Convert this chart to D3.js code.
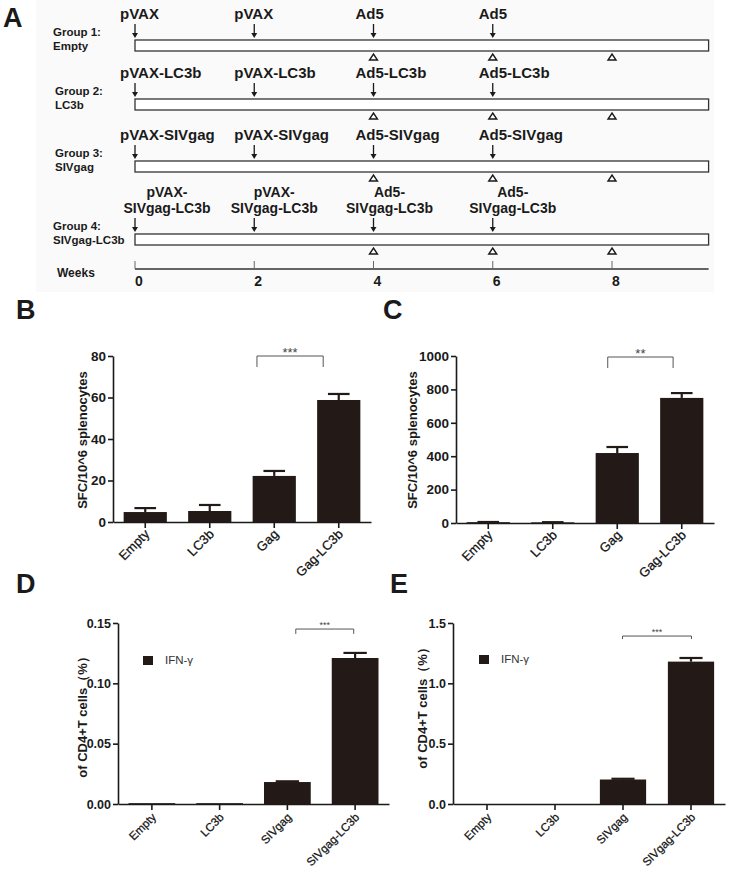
<!DOCTYPE html>
<html>
<head>
<meta charset="utf-8">
<script src="https://cdn.jsdelivr.net/npm/d3@7"></script>
<style>
  html, body { margin: 0; padding: 0; background: #fff; }
  svg { display: block; font-family: "Liberation Sans", Arial, sans-serif; }
</style>
</head>
<body>
<svg id="fig" width="730" height="874"></svg>
<script>
// ---- data ----
// panel A: immunization schedule
const weekTicks = [0, 2, 4, 6, 8];
const groupTitles = ['Group 1:', 'Group 2:', 'Group 3:', 'Group 4:'];
const groupNames = ['Empty', 'LC3b', 'SIVgag', 'SIVgag-LC3b'];
const primeWeeks = [0, 2];
const boostWeeks = [4, 6];
const sampleWeeks = [4, 6, 8];
const primeLabels = [['pVAX'], ['pVAX-LC3b'], ['pVAX-SIVgag'], ['pVAX-', 'SIVgag-LC3b']];
const boostLabels = [['Ad5'], ['Ad5-LC3b'], ['Ad5-SIVgag'], ['Ad5-', 'SIVgag-LC3b']];

// panels B, C: ELISPOT
const elispotCats = ['Empty', 'LC3b', 'Gag', 'Gag-LC3b'];
const elispotB = [4.8, 5.3, 22.2, 58.8];
const elispotBErr = [1.9, 2.9, 2.4, 2.9];
const elispotBTicks = [0, 20, 40, 60, 80];
const elispotC = [5, 4, 419, 749];
const elispotCErr = [1, 1, 36, 29];
const elispotCTicks = [0, 200, 400, 600, 800, 1000];

// panels D, E: intracellular IFN-γ
const icsCats = ['Empty', 'LC3b', 'SIVgag', 'SIVgag-LC3b'];
const icsD = [0.0007, 0.0007, 0.0182, 0.121];
const icsDErr = [0, 0, 0.0006, 0.0042];
const icsDTicks = [0, 0.05, 0.10, 0.15];
const icsE = [0, 0, 0.203, 1.18];
const icsEErr = [0, 0, 0.006, 0.03];
const icsETicks = [0, 0.5, 1.0, 1.5];

const ink = '#1a1a1a';
const barFill = '#231a17';
const svg = d3.select('#fig');

//panel letters
[['A', 3, 27], ['B', 16, 319], ['C', 383, 319], ['D', 16, 593], ['E', 390, 593]].forEach((d) => {
	svg.append('text').attr('x', d[1]).attr('y', d[2])
		.attr('font-size', 27).attr('font-weight', 'bold').attr('fill', ink).text(d[0]);
});

/**
  * @description 免疫程序示意图 (panel A)
  */
function drawSchedule () {
	let g = svg.append('g');
	g.append('rect').attr('x', 36).attr('y', 0).attr('width', 678).attr('height', 292).attr('fill', '#fafafa');
	let xw = d3.scaleLinear().domain([0, 8]).range([135, 612]);
	let barTop = [40, 99, 161, 234];
	let barEnd = 9.62;
	//label offsets per column (single line: left edge; two lines: centre)
	let singleDx = [-15, -20, -18, -14];
	let doubleDx = [32, 20, 16, 20];
	let weeks = primeWeeks.concat(boostWeeks);

	groupTitles.forEach((title, i) => {
		let top = barTop[i];
		let gx = i === 0 || i === 3 ? 53 : 55;
		g.append('text').attr('x', gx).attr('y', top - 4)
			.attr('font-size', 11.5).attr('font-weight', 'bold').attr('fill', ink).text(title);
		g.append('text').attr('x', gx).attr('y', top + 10)
			.attr('font-size', 11.5).attr('font-weight', 'bold').attr('fill', ink).text(groupNames[i]);

		g.append('rect').attr('x', xw(0)).attr('y', top)
			.attr('width', xw(barEnd) - xw(0)).attr('height', 11)
			.attr('fill', '#fff').attr('stroke', '#333').attr('stroke-width', 1.3);

		let labels = [primeLabels[i], primeLabels[i], boostLabels[i], boostLabels[i]];
		weeks.forEach((w, k) => {
			let x = xw(w);
			//arrow
			g.append('line').attr('x1', x).attr('x2', x).attr('y1', top - 16).attr('y2', top - 5)
				.attr('stroke', ink).attr('stroke-width', 1.3);
			g.append('path').attr('d', `M${x - 3},${top - 7}L${x + 3},${top - 7}L${x},${top - 2}Z`).attr('fill', ink);
			let lines = labels[k];
			if (lines.length === 1) {
				g.append('text').attr('font-size', 15).attr('font-weight', 'bold').attr('fill', ink)
					.attr('x', x + singleDx[k]).attr('y', top - 21).text(lines[0]);
			} else {
				lines.forEach((s, j) => {
					g.append('text').attr('font-size', 14).attr('font-weight', 'bold').attr('fill', ink)
						.attr('text-anchor', 'middle')
						.attr('x', x + doubleDx[k]).attr('y', top - 37 + j * 16).text(s);
				});
			}
		});
		//sampling triangles
		sampleWeeks.forEach((w) => {
			let x = xw(w), y = top + 17;
			g.append('path').attr('d', `M${x - 4},${y + 3}L${x + 4},${y + 3}L${x},${y - 3}Z`)
				.attr('fill', '#fff').attr('stroke', ink).attr('stroke-width', 1.4);
		});
	});

	//weeks axis
	let axisY = 269;
	g.append('line').attr('x1', xw(0)).attr('x2', xw(barEnd)).attr('y1', axisY).attr('y2', axisY)
		.attr('stroke', '#333').attr('stroke-width', 1.3);
	weekTicks.forEach((w) => {
		g.append('line').attr('x1', xw(w)).attr('x2', xw(w)).attr('y1', axisY - 8).attr('y2', axisY)
			.attr('stroke', '#666').attr('stroke-width', 1);
		g.append('text').attr('x', xw(w) + 4).attr('y', 286).attr('text-anchor', 'middle')
			.attr('font-size', 14).attr('font-weight', 'bold').attr('fill', ink).text(w);
	});
	g.append('text').attr('x', 57).attr('y', 277).attr('font-size', 12).attr('font-weight', 'bold')
		.attr('fill', ink).text('Weeks');
}

/**
  * @description 柱状图 + 误差线
  * @option
  *   cats, values, errs, ticks, fmt
  *   xRange, yRange, yMax
  */
function drawBars (o) {
	let g = svg.append('g');
	let x = d3.scaleBand().domain(o.cats).range(o.xRange)
		.paddingInner(o.pad).paddingOuter(o.pad / 2);
	let y = d3.scaleLinear().domain([0, o.yMax]).range(o.yRange);
	let bw = x.bandwidth();
	let rows = o.cats.map((c, i) => ({cat: c, v: o.values[i], e: o.errs[i]}));

	g.selectAll('rect.bar').data(rows).join('rect').attr('class', 'bar')
		.attr('x', (d) => x(d.cat)).attr('width', bw)
		.attr('y', (d) => y(d.v)).attr('height', (d) => y(0) - y(d.v))
		.attr('fill', barFill);
	//error bars (upper only)
	let eb = rows.filter((d) => d.e > 0);
	g.selectAll('line.err').data(eb).join('line').attr('class', 'err')
		.attr('x1', (d) => x(d.cat) + bw / 2).attr('x2', (d) => x(d.cat) + bw / 2)
		.attr('y1', (d) => y(d.v)).attr('y2', (d) => y(d.v + d.e))
		.attr('stroke', barFill).attr('stroke-width', 2.2);
	g.selectAll('line.cap').data(eb).join('line').attr('class', 'cap')
		.attr('x1', (d) => x(d.cat) + bw * 0.25).attr('x2', (d) => x(d.cat) + bw * 0.75)
		.attr('y1', (d) => y(d.v + d.e)).attr('y2', (d) => y(d.v + d.e))
		.attr('stroke', barFill).attr('stroke-width', 2.2);

	//axes
	let ya = g.append('g').attr('transform', `translate(${o.xRange[0]},0)`)
		.call(d3.axisLeft(y).tickValues(o.ticks).tickFormat(d3.format(o.fmt)).tickSize(5).tickSizeOuter(0).tickPadding(2));
	ya.selectAll('text').attr('font-size', o.yFont).attr('font-weight', 'bold').attr('fill', ink)
		.attr('font-family', '"Liberation Sans", Arial, sans-serif');
	let xa = g.append('g').attr('transform', `translate(0,${o.yRange[0]})`)
		.call(d3.axisBottom(x).tickSize(6).tickSizeOuter(0));
	xa.selectAll('text').remove();
	[ya, xa].forEach((a) => {
		a.select('.domain').attr('stroke', ink).attr('stroke-width', 1.6);
		a.selectAll('.tick line').attr('stroke', ink).attr('stroke-width', 1.6);
	});
	//rotated category labels
	g.selectAll('text.cat').data(o.cats).join('text').attr('class', 'cat')
		.attr('transform', (d) => `translate(${x(d) + bw / 2 + o.labDx},${o.yRange[0] + o.labDy}) rotate(-45)`)
		.attr('text-anchor', 'end').attr('font-size', o.xFont).attr('fill', '#111')
		.attr('stroke', '#111').attr('stroke-width', 0.25).text((d) => d);

	//y title
	g.append('text').attr('transform', `translate(${o.titleX},${o.titleY}) rotate(-90)`)
		.attr('text-anchor', 'middle').attr('dominant-baseline', 'central')
		.attr('font-size', 13).attr('font-weight', 'bold').attr('fill', ink).text(o.title);

	//significance bracket between last two bars
	let s = o.sig;
	let xa1 = x(o.cats[2]) + bw * s.f[0];
	let xa2 = x(o.cats[3]) + bw * s.f[1];
	g.append('path').attr('d', `M${xa1},${y(s.lo)}V${y(s.hi)}H${xa2}V${y(s.lo)}`)
		.attr('fill', 'none').attr('stroke', '#555').attr('stroke-width', 1);
	g.append('text').attr('x', (xa1 + xa2) / 2).attr('y', y(s.hi) - 3 + s.dy).attr('text-anchor', 'middle')
		.attr('font-size', s.size).attr('fill', '#444').text(s.text);

	if (o.legend) {
		g.append('rect').attr('x', o.legend.x).attr('y', o.legend.y).attr('width', 10).attr('height', 9).attr('fill', barFill);
		g.append('text').attr('x', o.legend.x + 22).attr('y', o.legend.y + 8)
			.attr('font-size', 11.5).attr('fill', '#333').text('IFN-γ');
	}
}

drawSchedule();

drawBars({
	cats: elispotCats, values: elispotB, errs: elispotBErr, ticks: elispotBTicks, fmt: 'd',
	xRange: [113, 371], yRange: [522, 356], yMax: 80, pad: 0.33,
	yFont: 13.5, xFont: 13, labDx: 5, labDy: 13,
	title: 'SFC/10^6 splenocytes', titleX: 82, titleY: 440,
	sig: {f: [0.1, 0.14], hi: 80, lo: 74.7, text: '***', size: 13, dy: 4}
});
drawBars({
	cats: elispotCats, values: elispotC, errs: elispotCErr, ticks: elispotCTicks, fmt: 'd',
	xRange: [456, 714], yRange: [523, 356], yMax: 1000, pad: 0.33,
	yFont: 13.5, xFont: 13, labDx: 5, labDy: 13,
	title: 'SFC/10^6 splenocytes', titleX: 412, titleY: 440,
	sig: {f: [0.28, 0.3], hi: 994, lo: 928, text: '**', size: 13, dy: 4}
});
drawBars({
	cats: icsCats, values: icsD, errs: icsDErr, ticks: icsDTicks, fmt: '.2f',
	xRange: [118, 389], yRange: [804, 623], yMax: 0.15, pad: 0.31,
	yFont: 12.5, xFont: 11.5, labDx: 5, labDy: 14,
	title: 'of CD4+T cells（%）', titleX: 82, titleY: 714,
	sig: {f: [0.68, 0.47], hi: 0.145, lo: 0.141, text: '***', size: 9, dy: 2},
	legend: {x: 143, y: 656}
});
drawBars({
	cats: icsCats, values: icsE, errs: icsEErr, ticks: icsETicks, fmt: '.1f',
	xRange: [453, 725], yRange: [804, 623], yMax: 1.5, pad: 0.32,
	yFont: 12.5, xFont: 11.5, labDx: 5, labDy: 14,
	title: 'of CD4+T cells（%）', titleX: 422, titleY: 705,
	sig: {f: [0.49, 0.51], hi: 1.392, lo: 1.367, text: '***', size: 9, dy: 2},
	legend: {x: 479, y: 655}
});
</script>
</body>
</html>
